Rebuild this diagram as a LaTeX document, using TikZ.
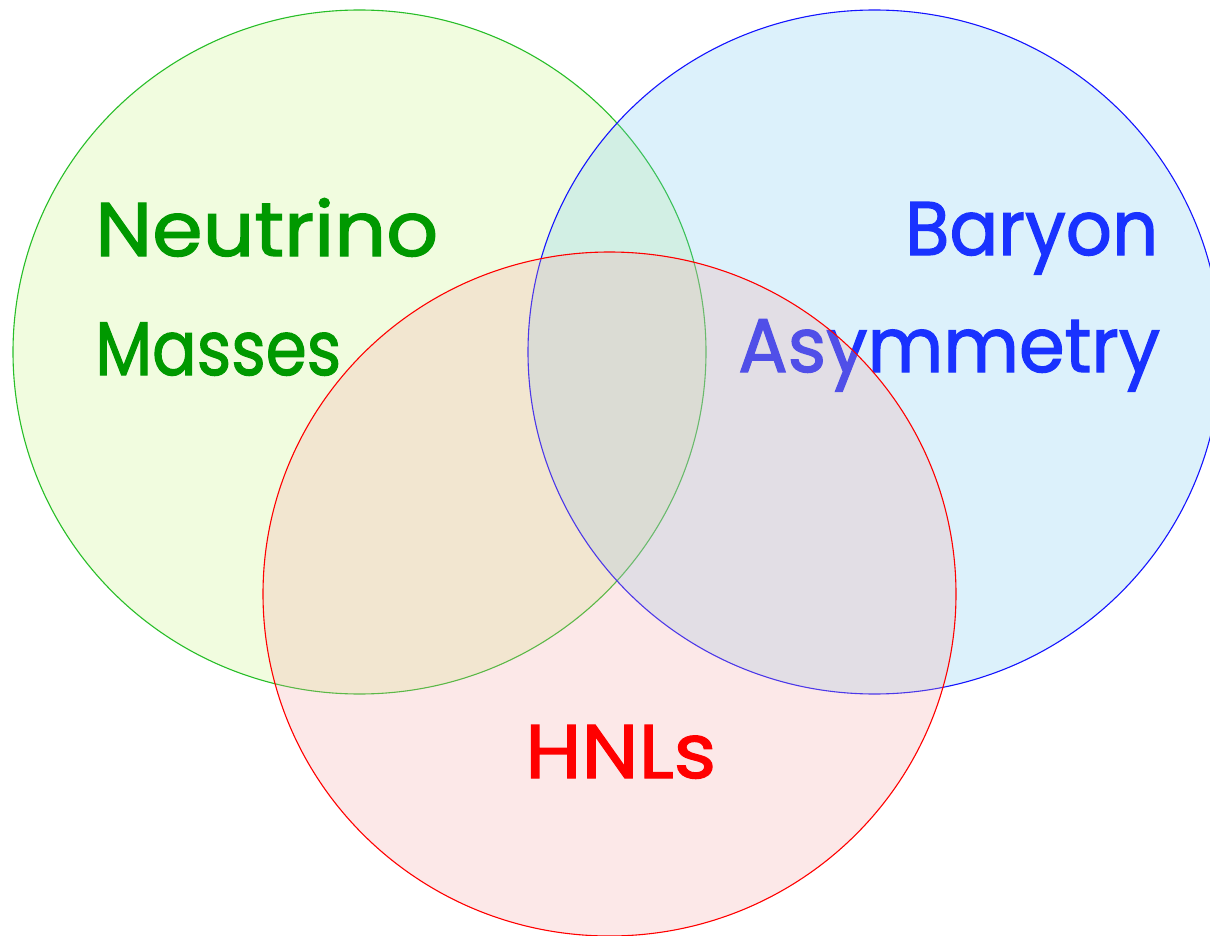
\documentclass[tikz,border=0pt]{standalone}
\usepackage{fontspec}
\usepackage{graphicx}
\setmainfont{Poppins}
\usetikzlibrary{shapes.geometric}

\definecolor{greenfill}{RGB}{203,247,131}
\definecolor{bluefill}{RGB}{119,203,243}
\definecolor{redfill}{RGB}{247,167,167}
\definecolor{greenline}{RGB}{40,190,40}
\definecolor{blueline}{RGB}{20,20,255}
\definecolor{redline}{RGB}{255,0,0}
\definecolor{greentext}{RGB}{0,153,0}
\definecolor{bluetext}{RGB}{25,50,255}
\definecolor{redtext}{RGB}{255,0,0}

\tikzset{
  setcircle/.style={ellipse, inner sep=0pt, minimum width=693pt, minimum height=684pt,
    line width=1.1pt, fill opacity=0.25, draw opacity=1},
  label/.style={anchor=base west, inner sep=0pt,
    font=\fontsize{76}{80}\selectfont\addfontfeatures{FakeBold=1.6}},
}
% fixed-width label: stretch text horizontally, keep its height
\newcommand{\wlabel}[2]{\resizebox{#1pt}{\height}{#2}}

\begin{document}
\begin{tikzpicture}[x=1pt, y=-1pt]
  \useasboundingbox (0,0) rectangle (1210,936);
  \fill[white] (0,0) rectangle (1210,936);
  \clip (0,0) rectangle (1210,936);

  % the two upper sets
  \node[setcircle, draw=greenline, fill=greenfill] (masses) at (359.5,352) {};
  \node[setcircle, draw=blueline, fill=bluefill] (baryon) at (874.5,352) {};

  \node[label, text=greentext] (t1) at (95,256) {\wlabel{343}{Neutrino}};
  \node[label, text=greentext] (t2) at (95,375) {\wlabel{246}{Masses}};
  \node[label, text=bluetext] (t3) at (905,255) {\wlabel{253}{Baryon}};
  \node[label, text=bluetext] (t4) at (738,372) {\wlabel{422}{Asymmetry}};

  % the lower set
  \node[setcircle, draw=redline, fill=redfill] (hnl) at (609.5,594) {};
  \node[label, text=redtext] (t5) at (525,778) {\wlabel{191}{HNLs}};
\end{tikzpicture}
\end{document}
